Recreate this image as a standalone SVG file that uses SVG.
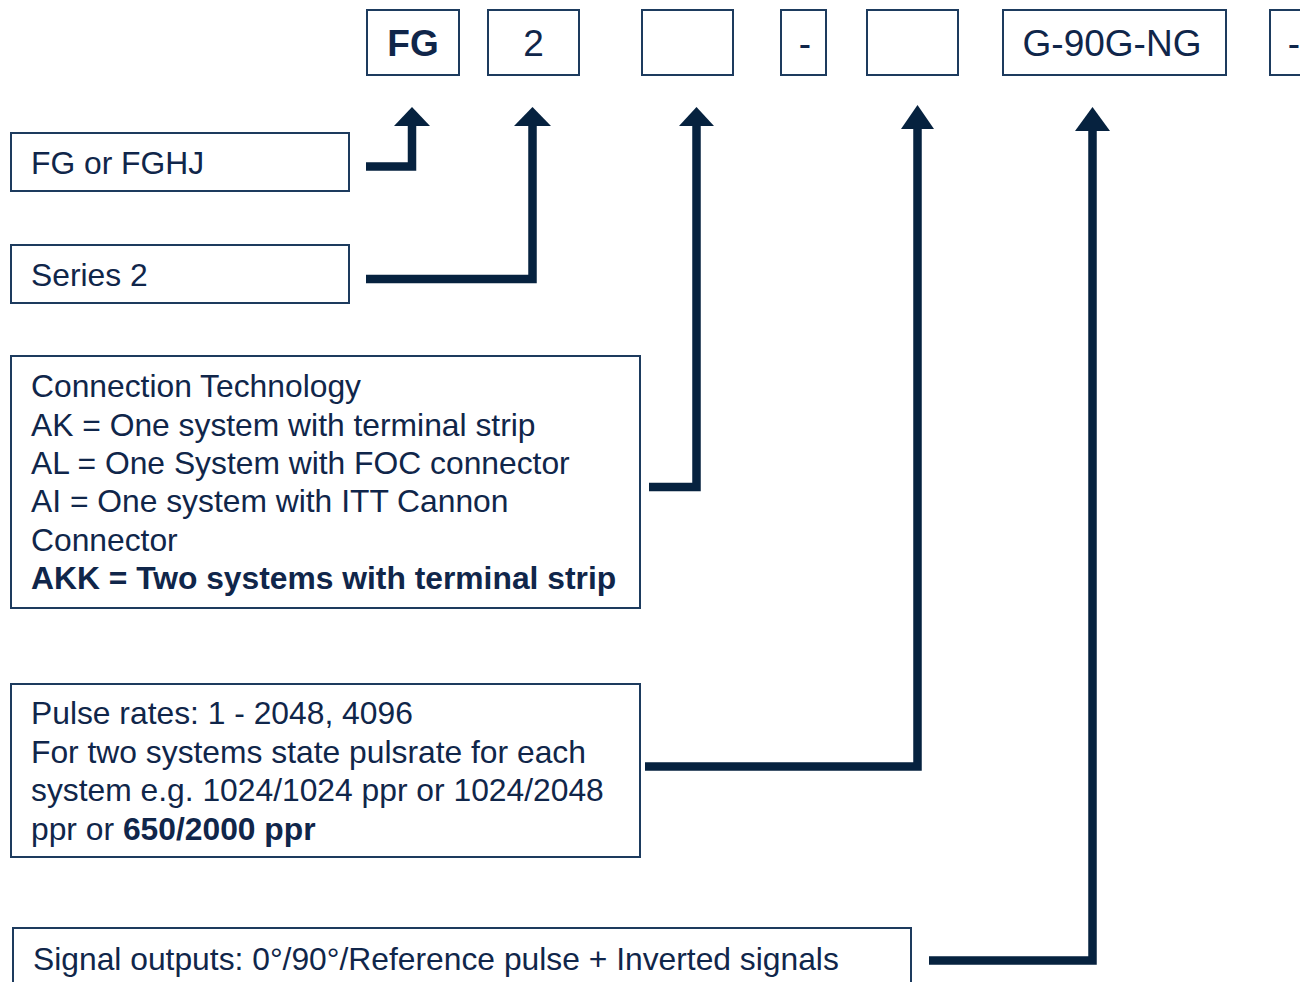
<svg xmlns="http://www.w3.org/2000/svg" width="1300" height="982" viewBox="0 0 1300 982">
<defs>
<style>
.box{fill:#ffffff;stroke:#1d3b5e;stroke-width:2}
.t{font-family:"Liberation Sans",Arial,sans-serif;font-size:31.8px;fill:#10264a}
.top{font-family:"Liberation Sans",Arial,sans-serif;font-size:37px;fill:#10264a;text-anchor:middle}
.b{font-weight:bold}
.conn{fill:none;stroke:#06223f;stroke-width:8.5;stroke-linejoin:miter;stroke-linecap:butt}
.head{fill:#06223f}
</style>
</defs>
<rect width="1300" height="982" fill="#ffffff"/>
<g id="code-fg"><rect class="box" x="367" y="10" width="92" height="65"/><text class="top b" x="413" y="56">FG</text></g>
<g id="code-2"><rect class="box" x="488" y="10" width="91" height="65"/><text class="top" x="533.5" y="56">2</text></g>
<g id="code-conn"><rect class="box" x="642" y="10" width="91" height="65"/></g>
<g id="code-dash1"><rect class="box" x="781" y="10" width="45" height="65"/><text class="top" x="805" y="56">-</text></g>
<g id="code-pulse"><rect class="box" x="867" y="10" width="91" height="65"/></g>
<g id="code-signal"><rect class="box" x="1003" y="10" width="223" height="65"/><text class="top" x="1112" y="56">G-90G-NG</text></g>
<g id="code-dash2"><rect class="box" x="1270" y="10" width="45" height="65"/><text class="top" x="1294" y="56">-</text></g>

<g id="desc-fg"><rect class="box" x="11" y="133" width="338" height="58"/><text class="t" x="31" y="174">FG or FGHJ</text></g>
<g id="desc-series"><rect class="box" x="11" y="245" width="338" height="58"/><text class="t" x="31" y="286">Series 2</text></g>
<g id="desc-conn"><rect class="box" x="11" y="356" width="629" height="252"/>
<text class="t" x="31" y="397">Connection Technology</text>
<text class="t" x="31" y="436">AK = One system with terminal strip</text>
<text class="t" x="31" y="474">AL = One System with FOC connector</text>
<text class="t" x="31" y="512">AI = One system with ITT Cannon</text>
<text class="t" x="31" y="551">Connector</text>
<text class="t b" x="31" y="589">AKK = Two systems with terminal strip</text>
</g>
<g id="desc-pulse"><rect class="box" x="11" y="684" width="629" height="173"/>
<text class="t" x="31" y="724">Pulse rates: 1 - 2048, 4096</text>
<text class="t" x="31" y="763">For two systems state pulsrate for each</text>
<text class="t" x="31" y="801">system e.g. 1024/1024 ppr or 1024/2048</text>
<text class="t" x="31" y="840">ppr or <tspan class="b">650/2000 ppr</tspan></text>
</g>
<g id="desc-signal"><rect class="box" x="13" y="928" width="898" height="70"/>
<text class="t" x="33" y="970">Signal outputs: 0°/90°/Reference pulse + Inverted signals</text>
</g>

<g id="connectors">
<polyline class="conn" points="366,166.5 412,166.5 412,124"/>
<polygon class="head" points="412,107 430,126 394,126"/>
<polyline class="conn" points="366,279 532.5,279 532.5,124"/>
<polygon class="head" points="532.5,107 551,126 514,126"/>
<polyline class="conn" points="649,487 696.5,487 696.5,124"/>
<polygon class="head" points="696.5,107 714,126 679,126"/>
<polyline class="conn" points="645,766.5 917.5,766.5 917.5,126"/>
<polygon class="head" points="917.5,105 934,129 901,129"/>
<polyline class="conn" points="929,960.5 1092.5,960.5 1092.5,128"/>
<polygon class="head" points="1092.5,107 1110,131 1075,131"/>
</g>
</svg>
